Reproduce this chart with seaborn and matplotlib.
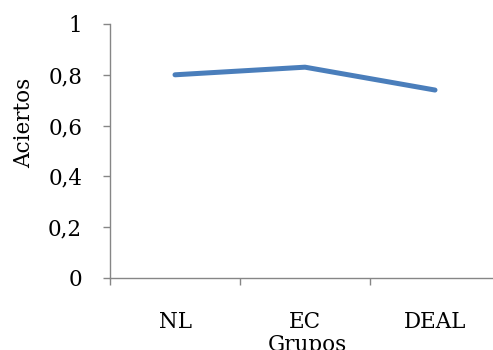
import matplotlib
matplotlib.use("Agg")
import matplotlib.pyplot as plt
import seaborn as sns
import pandas as pd
from matplotlib.ticker import FixedLocator

grupos = ["NL", "EC", "DEAL"]
aciertos = [0.80, 0.83, 0.74]
y_ticks = [0, 0.2, 0.4, 0.6, 0.8, 1.0]
y_tick_labels = ["0", "0,2", "0,4", "0,6", "0,8", "1"]

sns.set_theme(style="white")
plt.rcParams["font.family"] = ["DejaVu Serif"]

df = pd.DataFrame({"Grupos": grupos, "Aciertos": aciertos})

fig = plt.figure(figsize=(4.93, 3.5), dpi=100)
ax = fig.add_axes([110 / 493, 72 / 350, 390 / 493, 254 / 350])

sns.lineplot(data=df, x="Grupos", y="Aciertos", sort=False, ax=ax,
             color="#4A7EBB", linewidth=3.6, solid_capstyle="round")

ax.set_xlim(-0.5, 2.5)
ax.set_ylim(0, 1)
ax.set_yticks(y_ticks)
ax.set_yticklabels(y_tick_labels)
ax.xaxis.set_minor_locator(FixedLocator([-0.5, 0.5, 1.5, 2.5]))

fs = 15.5
spine_c = "#868686"
for s in ["top", "right"]:
    ax.spines[s].set_visible(False)
for s in ["left", "bottom"]:
    ax.spines[s].set_color(spine_c)
    ax.spines[s].set_linewidth(1.0)

ax.tick_params(axis="y", which="major", left=True, length=5, width=1.0,
               color=spine_c, pad=15, labelsize=fs, labelcolor="black")
ax.tick_params(axis="x", which="major", bottom=False, length=0, pad=24,
               labelsize=fs, labelcolor="black")
ax.tick_params(axis="x", which="minor", bottom=True, length=5, width=1.0,
               color=spine_c)

ax.set_ylabel("Aciertos", fontsize=fs, color="black")
ax.yaxis.set_label_coords(-0.192, 0.612)
ax.set_xlabel("Grupos", fontsize=fs, color="black")
ax.xaxis.set_label_coords(0.505, -0.222)

fig.savefig("out.png", dpi=100)
